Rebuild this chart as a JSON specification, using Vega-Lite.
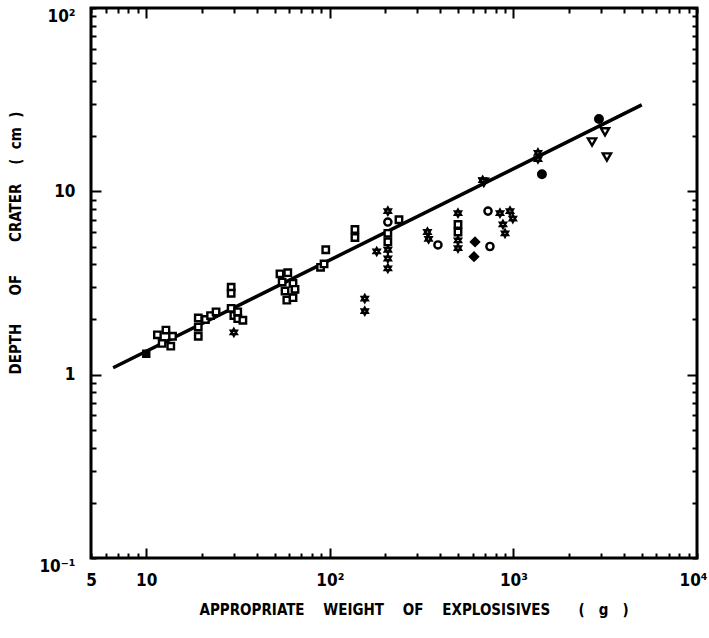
{
  "$schema": "https://vega.github.io/schema/vega-lite/v6.json",
  "width": 606,
  "height": 550,
  "autosize": {"type": "none"},
  "padding": {"left": 91, "top": 8, "right": 12, "bottom": 80},
  "background": "white",
  "view": {"stroke": "black", "strokeWidth": 3},
  "config": {
    "axis": {
      "domain": false,
      "ticks": false,
      "tickSize": 0,
      "grid": true,
      "gridColor": "black",
      "gridWidth": 2,
      "gridOpacity": 1,
      "labelFont": "DejaVu Sans Condensed",
      "labelFontWeight": "bold",
      "labelFontSize": 17,
      "labelColor": "black",
      "labelFlush": false,
      "labelOverlap": false,
      "titleFont": "DejaVu Sans Condensed",
      "titleFontWeight": "bold",
      "titleFontSize": 15,
      "titleColor": "black"
    }
  },
  "datasets": {
    "fit": [
      {"w": 6.6, "d": 1.09},
      {"w": 5000, "d": 29.6}
    ],
    "pts": [
      {"w": 10, "d": 1.3, "type": "fsq"},
      {"w": 11.5, "d": 1.65, "type": "sq"},
      {"w": 12.8, "d": 1.75, "type": "sq"},
      {"w": 12.2, "d": 1.48, "type": "sq"},
      {"w": 13.6, "d": 1.43, "type": "sq"},
      {"w": 13.9, "d": 1.62, "type": "sq"},
      {"w": 19.2, "d": 2.04, "type": "sq"},
      {"w": 19.2, "d": 1.82, "type": "sq"},
      {"w": 19.2, "d": 1.62, "type": "sq"},
      {"w": 21.0, "d": 2.0, "type": "sq"},
      {"w": 22.4, "d": 2.1, "type": "sq"},
      {"w": 24.0, "d": 2.2, "type": "sq"},
      {"w": 29, "d": 3.0, "type": "sq"},
      {"w": 29, "d": 2.78, "type": "sq"},
      {"w": 29, "d": 2.3, "type": "sq"},
      {"w": 30, "d": 2.1, "type": "sq"},
      {"w": 31.5, "d": 2.2, "type": "sq"},
      {"w": 31.5, "d": 2.02, "type": "sq"},
      {"w": 33.6, "d": 1.98, "type": "sq"},
      {"w": 30, "d": 1.7, "type": "star"},
      {"w": 53.5, "d": 3.55, "type": "sq"},
      {"w": 59, "d": 3.6, "type": "sq"},
      {"w": 55, "d": 3.2, "type": "sq"},
      {"w": 63, "d": 3.15, "type": "sq"},
      {"w": 57, "d": 2.86, "type": "sq"},
      {"w": 64.6, "d": 2.92, "type": "sq"},
      {"w": 58.3, "d": 2.55, "type": "sq"},
      {"w": 63, "d": 2.63, "type": "sq"},
      {"w": 89, "d": 3.85, "type": "sq"},
      {"w": 93, "d": 4.02, "type": "sq"},
      {"w": 95, "d": 4.8, "type": "sq"},
      {"w": 137, "d": 6.2, "type": "sq"},
      {"w": 137, "d": 5.6, "type": "sq"},
      {"w": 155, "d": 2.6, "type": "star"},
      {"w": 155, "d": 2.22, "type": "star"},
      {"w": 180, "d": 4.7, "type": "star"},
      {"w": 207, "d": 7.8, "type": "star"},
      {"w": 207, "d": 6.8, "type": "circ"},
      {"w": 207, "d": 5.9, "type": "sq"},
      {"w": 207, "d": 5.3, "type": "sq"},
      {"w": 207, "d": 4.8, "type": "star"},
      {"w": 207, "d": 4.3, "type": "star"},
      {"w": 207, "d": 3.8, "type": "star"},
      {"w": 238, "d": 7.0, "type": "sq"},
      {"w": 340, "d": 6.0, "type": "star"},
      {"w": 345, "d": 5.5, "type": "star"},
      {"w": 388, "d": 5.1, "type": "circ"},
      {"w": 499, "d": 7.6, "type": "star"},
      {"w": 499, "d": 6.6, "type": "sq"},
      {"w": 499, "d": 6.0, "type": "sq"},
      {"w": 499, "d": 5.4, "type": "star"},
      {"w": 499, "d": 4.9, "type": "star"},
      {"w": 618, "d": 5.3, "type": "fdia"},
      {"w": 610, "d": 4.4, "type": "fdia"},
      {"w": 745, "d": 5.0, "type": "circ"},
      {"w": 727, "d": 7.8, "type": "circ"},
      {"w": 845, "d": 7.6, "type": "star"},
      {"w": 958, "d": 7.8, "type": "star"},
      {"w": 877, "d": 6.6, "type": "star"},
      {"w": 993, "d": 7.1, "type": "star"},
      {"w": 900, "d": 5.9, "type": "star"},
      {"w": 690, "d": 11.2, "type": "tri"},
      {"w": 680, "d": 11.5, "type": "star"},
      {"w": 1361, "d": 16.2, "type": "star"},
      {"w": 1361, "d": 15.0, "type": "star"},
      {"w": 1430, "d": 12.4, "type": "fcirc"},
      {"w": 2924, "d": 24.8, "type": "fcirc"},
      {"w": 3155, "d": 21.1, "type": "tri"},
      {"w": 2680, "d": 18.6, "type": "tri"},
      {"w": 3230, "d": 15.4, "type": "tri"}
    ]
  },
  "encoding": {
    "x": {
      "field": "w", "type": "quantitative",
      "scale": {"type": "log", "domain": [5, 10000], "nice": false},
      "axis": {
        "orient": "bottom",
        "values": [5,6,7,8,9,10,20,30,40,50,60,70,80,90,100,200,300,400,500,600,700,800,900,1000,2000,3000,4000,5000,6000,7000,8000,9000,10000],
        "labelExpr": "datum.value == 5 ? '5' : datum.value == 10 ? '10' : datum.value == 100 ? '10²' : datum.value == 1000 ? '10³' : datum.value == 10000 ? '10⁴' : ''",
        "labelPadding": 14,
        "labelAlign": {"condition": {"test": "datum.value == 10000", "value": "right"}, "value": "center"},
        "labelOffset": {"condition": {"test": "datum.value == 10000", "value": 10}, "value": 0},
        "gridDash": {"condition": {"test": "datum.value == 10 || datum.value == 100 || datum.value == 1000", "value": [10, 530]}, "value": [5, 540]},
        "title": "APPROPRIATE\u00a0\u00a0\u00a0\u00a0WEIGHT\u00a0\u00a0\u00a0\u00a0OF\u00a0\u00a0\u00a0\u00a0EXPLOSISIVES\u00a0\u00a0\u00a0\u00a0\u00a0\u00a0(\u00a0\u00a0\u00a0g\u00a0\u00a0\u00a0)",
        "titleX": 108,
        "titleY": 44,
        "titleAlign": "left",
        "titleAnchor": null
      }
    },
    "y": {
      "field": "d", "type": "quantitative",
      "scale": {"type": "log", "domain": [0.1, 100], "nice": false},
      "axis": {
        "orient": "left",
        "values": [0.1,0.2,0.3,0.4,0.5,0.6,0.7,0.8,0.9,1,2,3,4,5,6,7,8,9,10,20,30,40,50,60,70,80,90,100],
        "labelExpr": "datum.value == 0.1 ? '10⁻¹' : datum.value == 1 ? '1' : datum.value == 10 ? '10' : datum.value == 100 ? '10²' : ''",
        "labelPadding": 16,
        "labelAlign": "right",
        "labelBaseline": {"condition": {"test": "datum.value == 100 || datum.value == 0.1", "value": "top"}, "value": "middle"},
        "gridDash": {"condition": {"test": "datum.value == 1 || datum.value == 10", "value": [10, 586]}, "value": [5, 596]},
        "title": "DEPTH\u00a0\u00a0\u00a0\u00a0\u00a0\u00a0OF\u00a0\u00a0\u00a0\u00a0\u00a0\u00a0\u00a0CRATER\u00a0\u00a0\u00a0\u00a0(\u00a0\u00a0cm\u00a0\u00a0)",
        "titleFontSize": 15,
        "titleX": -68,
        "titleY": 366,
        "titleAlign": "left",
        "titleAnchor": null
      }
    }
  },
  "layer": [
    {
      "data": {"name": "fit"},
      "mark": {"type": "line", "color": "black", "strokeWidth": 3.5}
    },
    {
      "data": {"name": "pts"},
      "mark": {"type": "point", "stroke": "black", "strokeWidth": 2.4, "opacity": 1},
      "encoding": {
        "shape": {
          "field": "type", "type": "nominal", "legend": null,
          "scale": {
            "domain": ["fsq", "sq", "star", "circ", "fcirc", "fdia", "tri"],
            "range": ["square", "square", "M0,-1L0.866,0.5L-0.866,0.5Z M0,1L0.866,-0.5L-0.866,-0.5Z", "circle", "circle", "diamond", "triangle-down"]
          }
        },
        "fill": {
          "field": "type", "type": "nominal", "legend": null,
          "scale": {
            "domain": ["fsq", "sq", "star", "circ", "fcirc", "fdia", "tri"],
            "range": ["black", "white", "white", "white", "black", "black", "white"]
          }
        },
        "size": {
          "field": "type", "type": "nominal", "legend": null,
          "scale": {
            "domain": ["fsq", "sq", "star", "circ", "fcirc", "fdia", "tri"],
            "range": [36, 68, 230, 110, 150, 140, 120]
          }
        }
      }
    }
  ]
}
